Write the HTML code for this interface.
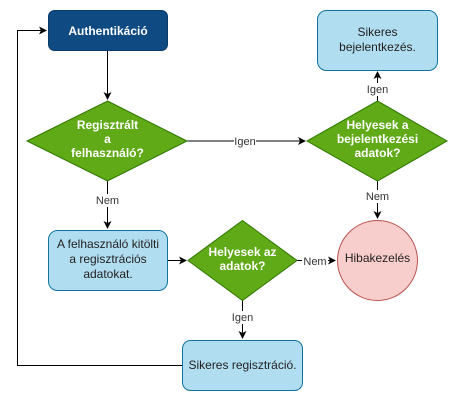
<!DOCTYPE html>
<html><head><meta charset="utf-8"><style>body{margin:0;background:#fff}</style></head><body>
<svg width="458" height="401" viewBox="0 0 458 401" xmlns="http://www.w3.org/2000/svg" font-family="Liberation Sans, Arial, sans-serif" font-size="12">
<defs><marker id="a" markerWidth="8" markerHeight="8" refX="7" refY="4" orient="auto" markerUnits="userSpaceOnUse"><path d="M0,0 L8,4 L0,8 L2,4 z" fill="#000"/></marker></defs>
<g stroke="#000" stroke-width="1" fill="none">
<path d="M107.5 50 V99" marker-end="url(#a)"/>
<path d="M187 141 H305" marker-end="url(#a)"/>
<path d="M377.5 101 V72" marker-end="url(#a)"/>
<path d="M377.5 181 V218" marker-end="url(#a)"/>
<path d="M107.5 181 V228" marker-end="url(#a)"/>
<path d="M167 260.5 H186" marker-end="url(#a)"/>
<path d="M297 260.5 H335" marker-end="url(#a)"/>
<path d="M242.5 300 V338" marker-end="url(#a)"/>
<path d="M182 365.5 H17.5 V30.5 H46" marker-end="url(#a)"/>
</g>
<g font-size="11" fill="#333" text-anchor="middle">
<rect x="234" y="134" width="22" height="13" fill="#fff"/><text x="245" y="145">Igen</text>
<rect x="366" y="83" width="22" height="13" fill="#fff"/><text x="377.5" y="93">Igen</text>
<rect x="364" y="190" width="26" height="13" fill="#fff"/><text x="377.5" y="200">Nem</text>
<rect x="94" y="194" width="26" height="13" fill="#fff"/><text x="107.5" y="204">Nem</text>
<rect x="302" y="254" width="26" height="13" fill="#fff"/><text x="315" y="265">Nem</text>
<rect x="231" y="311" width="22" height="13" fill="#fff"/><text x="242.5" y="321">Igen</text>
</g>
<rect x="48.5" y="10.5" width="119" height="40" rx="6" fill="#0f4a82" stroke="#0b3b6a"/>
<text x="108" y="35" fill="#fff" font-weight="bold" text-anchor="middle">Authentikáció</text>
<rect x="317.5" y="10.5" width="120" height="60" rx="9" fill="#b1ddf0" stroke="#10739e"/>
<text x="377.5" y="36" fill="#222" text-anchor="middle">Sikeres</text>
<text x="377.5" y="51" fill="#222" text-anchor="middle">bejelentkezés.</text>
<path d="M107.5 101 L187 141 L107.5 181 L27 141 Z" fill="#60a917" stroke="#2d7600"/>
<g fill="#fff" font-weight="bold" text-anchor="middle">
<text x="107.5" y="129">Regisztrált</text><text x="107.5" y="143">a</text><text x="107.5" y="157">felhasználó?</text>
</g>
<path d="M377.5 101 L447 141 L377.5 181 L307 141 Z" fill="#60a917" stroke="#2d7600"/>
<g fill="#fff" font-weight="bold" text-anchor="middle">
<text x="377.5" y="129">Helyesek a</text><text x="377.5" y="143">bejelentkezési</text><text x="377.5" y="157">adatok?</text>
</g>
<rect x="48.5" y="230.5" width="119" height="60" rx="9" fill="#b1ddf0" stroke="#10739e"/>
<g fill="#222" text-anchor="middle"><text x="108" y="248">A felhasználó kitölti</text><text x="108" y="263">a regisztrációs</text><text x="108" y="278">adatokat.</text></g>
<path d="M242.5 220.5 L297 260.5 L242.5 300.5 L188 260.5 Z" fill="#60a917" stroke="#2d7600"/>
<g fill="#fff" font-weight="bold" text-anchor="middle"><text x="242.5" y="256">Helyesek az</text><text x="242.5" y="270">adatok?</text></g>
<circle cx="377.5" cy="260.5" r="40" fill="#f8cecc" stroke="#b85450"/>
<text x="377.5" y="262" fill="#222" text-anchor="middle">Hibakezelés</text>
<rect x="182.5" y="340.5" width="120" height="50" rx="8" fill="#b1ddf0" stroke="#10739e"/>
<text x="242.5" y="369" fill="#222" text-anchor="middle">Sikeres regisztráció.</text>
</svg>
</body></html>
